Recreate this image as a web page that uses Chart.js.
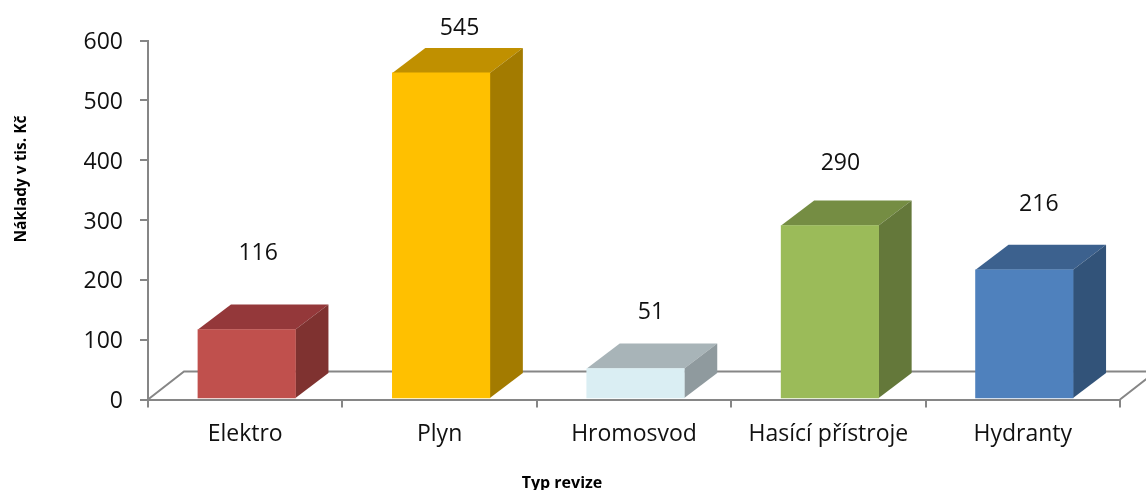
<!DOCTYPE html>
<html><head><meta charset="utf-8">
<style>html,body{margin:0;padding:0;background:#fff;overflow:hidden}canvas{display:block}</style>
<script src="https://cdn.jsdelivr.net/npm/chart.js@4"></script>
</head><body><canvas id="c" width="1146" height="490"></canvas>
<script>
const categories = ['Elektro', 'Plyn', 'Hromosvod', 'Hasící přístroje', 'Hydranty'];
const values = [116, 545, 51, 290, 216];
const frontColors = ['#c0504d', '#ffc000', '#daeef3', '#9bbb59', '#4f81bd'];
const topColors = ['#94383a', '#c09000', '#a8b4b8', '#758d43', '#3c618e'];
const sideColors = ['#7f3230', '#a37b00', '#8f9a9e', '#64783a', '#325379'];
const labelShiftX = [13, 20, 17, 12, 16];
const labelLift = [77, 45, 57, 63, 66];
const yTicks = [0, 100, 200, 300, 400, 500, 600];
const yTitle = 'Náklady v tis. Kč';
const xTitle = 'Typ revize';
const FONT = '"Open Sans"';
const AXIS = '#868686';
const DX = 33, DY = 25, BAR_SHIFT = 1.5, BAR_LIFT = 0.5;

const cube = {
  id: 'cube',
  beforeDraw(chart) {
    const {ctx, width, height, chartArea: a} = chart;
    ctx.save();
    ctx.fillStyle = '#fff';
    ctx.fillRect(0, 0, width, height);
    ctx.strokeStyle = AXIS; ctx.lineWidth = 2;
    ctx.beginPath();
    ctx.moveTo(a.left, a.bottom);
    ctx.lineTo(a.left + 36, a.bottom - 28);
    ctx.lineTo(width + 2, a.bottom - 28);
    ctx.moveTo(a.right, a.bottom);
    ctx.lineTo(a.right + 36, a.bottom - 28);
    ctx.stroke();
    ctx.restore();
  },
  beforeDatasetDraw(chart) {
    const ctx = chart.ctx;
    ctx.save();
    ctx.translate(BAR_SHIFT, -BAR_LIFT);
    chart.getDatasetMeta(0).data.forEach((bar, i) => {
      const l = bar.x - bar.width / 2, r = bar.x + bar.width / 2, t = bar.y, b = bar.base;
      ctx.fillStyle = topColors[i];
      ctx.beginPath();
      ctx.moveTo(l, t); ctx.lineTo(l + DX, t - DY); ctx.lineTo(r + DX, t - DY); ctx.lineTo(r, t);
      ctx.closePath(); ctx.fill();
      ctx.fillStyle = sideColors[i];
      ctx.beginPath();
      ctx.moveTo(r, t); ctx.lineTo(r + DX, t - DY); ctx.lineTo(r + DX, b - DY); ctx.lineTo(r, b);
      ctx.closePath(); ctx.fill();
    });
  },
  afterDatasetDraw(chart) { chart.ctx.restore(); },
  afterDraw(chart) {
    const {ctx} = chart;
    ctx.save();
    ctx.fillStyle = '#111';
    ctx.font = '23px ' + FONT;
    ctx.textAlign = 'center'; ctx.textBaseline = 'middle';
    chart.getDatasetMeta(0).data.forEach((bar, i) => {
      ctx.fillText(String(values[i]), bar.x + labelShiftX[i], bar.y - labelLift[i]);
    });
    ctx.fillStyle = '#000';
    ctx.font = 'bold 16px ' + FONT;
    ctx.textBaseline = 'alphabetic';
    ctx.fillText(xTitle, 562, 488);
    ctx.font = 'bold 15.5px ' + FONT;
    ctx.translate(26, 179);
    ctx.rotate(-Math.PI / 2);
    ctx.fillText(yTitle, 0, 0);
    ctx.restore();
  }
};

new Chart(document.getElementById('c'), {
  type: 'bar',
  data: {
    labels: categories,
    datasets: [{ data: values, backgroundColor: frontColors, borderWidth: 0, barThickness: 97.5 }]
  },
  options: {
    responsive: false,
    animation: false,
    layout: { padding: { top: 40.5, right: 26, left: 0, bottom: 0 } },
    plugins: { legend: { display: false }, tooltip: { enabled: false } },
    scales: {
      x: {
        afterFit(s) { s.height = 90.5; },
        border: { color: AXIS, width: 2 },
        grid: { display: true, offset: true, drawOnChartArea: false, drawTicks: true, tickLength: 8, color: AXIS, lineWidth: 2 },
        ticks: { color: '#111', font: { family: FONT, size: 23 }, padding: 13, maxRotation: 0, autoSkip: false },
        title: { display: false, text: xTitle }
      },
      y: {
        min: 0, max: 600,
        afterFit(s) { s.width = 148; },
        afterBuildTicks(s) { s.ticks = yTicks.map(v => ({ value: v })); },
        border: { color: AXIS, width: 2 },
        grid: { display: true, drawOnChartArea: false, drawTicks: true, tickLength: 8, color: AXIS, lineWidth: 2 },
        ticks: { color: '#111', font: { family: FONT, size: 23 }, padding: 17, labelOffset: 2 },
        title: { display: false, text: yTitle }
      }
    }
  },
  plugins: [cube]
});
</script></body></html>
